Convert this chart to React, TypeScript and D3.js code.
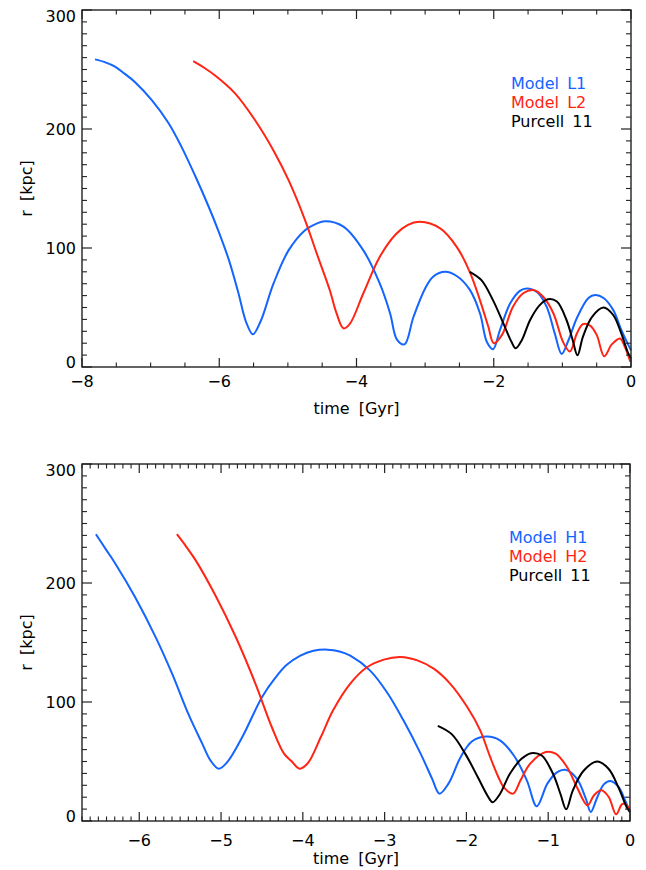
import React from "react";
import * as d3 from "d3";

type P = [number, number];

// Top panel series (time [Gyr], r [kpc])
const modelL1: P[] = [[-7.81,258.5],[-7.66,256],[-7.52,252.5],[-7.38,246.5],[-7.23,239.5],[-6.98,224],[-6.74,205],[-6.55,185],[-6.35,160.5],[-6.16,135.5],[-6.01,114],[-5.86,90],[-5.72,62],[-5.61,38],[-5.51,27.5],[-5.40,38],[-5.21,70],[-4.99,98],[-4.75,115],[-4.62,119.5],[-4.46,122.5],[-4.19,118],[-3.90,98],[-3.66,70],[-3.51,45],[-3.41,23],[-3.30,19],[-3.17,42],[-3.00,66],[-2.88,76],[-2.71,80],[-2.54,76.5],[-2.35,65],[-2.20,45],[-2.10,21],[-2.01,15],[-1.91,31],[-1.76,53.5],[-1.62,64],[-1.52,66],[-1.37,63],[-1.23,50.7],[-1.11,28],[-1.01,11],[-0.91,22.7],[-0.79,41],[-0.62,58],[-0.52,60.5],[-0.40,58],[-0.26,48],[-0.14,31],[0,14]];
const modelL2: P[] = [[-6.38,257],[-6.22,251.5],[-6.06,245],[-5.77,230],[-5.48,207.6],[-5.21,182],[-4.99,157],[-4.75,123.5],[-4.58,95.5],[-4.39,64.7],[-4.29,45],[-4.19,32.5],[-4.10,36],[-3.90,62],[-3.66,92.7],[-3.42,112],[-3.25,119.5],[-3.08,122],[-2.78,116.5],[-2.54,101],[-2.35,80],[-2.20,56],[-2.08,34],[-2.00,20],[-1.88,27],[-1.72,50.7],[-1.57,62],[-1.42,64.7],[-1.28,59],[-1.13,45],[-0.99,21],[-0.89,13],[-0.79,28],[-0.70,36],[-0.60,35],[-0.50,27],[-0.39,9],[-0.28,19],[-0.16,24],[-0.09,17],[-0.01,4.5]];
// Purcell 11 (same orbit shown in both panels)
const purcell11: P[] = [[-2.35,80],[-2.18,73],[-2.01,56],[-1.86,36.7],[-1.74,21],[-1.68,15.7],[-1.59,22.7],[-1.47,39.5],[-1.33,52],[-1.21,57],[-1.08,55],[-0.94,39.5],[-0.85,22.7],[-0.78,9.8],[-0.70,25.5],[-0.57,42],[-0.40,50],[-0.26,43.7],[-0.14,28],[-0.04,11.5],[0,7.5]];

// Bottom panel series
const modelH1: P[] = [[-6.53,241],[-6.41,228.5],[-6.29,216],[-6.05,188],[-5.80,154.5],[-5.60,124],[-5.40,90],[-5.23,65],[-5.13,51],[-5.03,44],[-4.93,49],[-4.74,70.6],[-4.50,104],[-4.34,120],[-4.20,131],[-4.03,139],[-3.87,143],[-3.70,144],[-3.55,142.5],[-3.42,139],[-3.18,126.6],[-2.97,108],[-2.77,84.6],[-2.56,56.6],[-2.42,35.6],[-2.33,23],[-2.22,31.4],[-2.07,53.8],[-1.93,67],[-1.75,71],[-1.59,67.8],[-1.42,55],[-1.26,34],[-1.14,12.4],[-1.01,31.4],[-0.89,41],[-0.79,43],[-0.65,35.6],[-0.54,18.8],[-0.48,7.6],[-0.40,20],[-0.32,30.8],[-0.24,33.6],[-0.14,28.6],[-0.06,17.4],[0,7.6]];
const modelH2: P[] = [[-5.54,241],[-5.42,230],[-5.31,219],[-5.07,189.7],[-4.82,154.6],[-4.58,115.5],[-4.38,79],[-4.23,56.6],[-4.14,50.4],[-4.04,44],[-3.94,48.5],[-3.78,70.6],[-3.63,93],[-3.42,115.5],[-3.22,129],[-3.01,135.6],[-2.81,137.8],[-2.60,135],[-2.40,128],[-2.20,115.5],[-1.99,95.8],[-1.83,76],[-1.71,53.8],[-1.61,37],[-1.54,28],[-1.43,23],[-1.34,34],[-1.22,48.2],[-1.03,58],[-0.91,56.6],[-0.77,45.4],[-0.65,28.6],[-0.52,13.2],[-0.44,21.6],[-0.35,25.8],[-0.26,20.2],[-0.17,5.6],[-0.10,14],[-0.06,14.6],[0,9]];

const topLegend = ["Model L1", "Model L2", "Purcell 11"];
const bottomLegend = ["Model H1", "Model H2", "Purcell 11"];
const yTicks = [0, 100, 200, 300];
const topXTicks = [-8, -6, -4, -2, 0];
const bottomXTicks = [-6, -5, -4, -3, -2, -1, 0];

const BLUE = "#1464ff";
const RED = "#ff2414";
const BLACK = "#000000";
const FONT = "DejaVu Sans";
const AX = "#222";

interface PanelProps {
  left: number; right: number; top: number; bottom: number;
  xDomain: [number, number];
  xMajor: number[]; xMinorStep: number;
  series: { data: P[]; color: string }[];
  legend: string[]; legendX: number;
  xLabelOffset: number; xTitleY: number;
}

const fmt = (v: number) => (v < 0 ? "\u2212" + Math.abs(v) : String(v));

function Panel(p: PanelProps) {
  const x = d3.scaleLinear().domain(p.xDomain).range([p.left, p.right]);
  const y = d3.scaleLinear().domain([0, 300]).range([p.bottom, p.top]);
  const line = d3.line<P>().x(d => x(d[0])).y(d => y(d[1])).curve(d3.curveCatmullRom.alpha(0.5));
  const yMinor = d3.range(0, 301, 10).filter(v => v % 100 !== 0);
  const xMinor = d3.range(p.xDomain[0], p.xDomain[1] + 1e-9, p.xMinorStep)
    .map(v => Math.round(v / p.xMinorStep) * p.xMinorStep)
    .filter(v => v >= p.xDomain[0] - 1e-9 && !p.xMajor.some(m => Math.abs(m - v) < 1e-6));
  const colors = [BLUE, RED, BLACK];
  const yLabelY = (v: number) => {
    const c = Math.min(Math.max(y(v), p.top + 6), p.bottom - 5);
    return c + 6;
  };
  return (
    <g>
      {p.series.map((s, i) => (
        <path key={i} d={line(s.data) || ""} fill="none" stroke={s.color} strokeWidth={2} strokeLinejoin="round" />
      ))}
      <rect x={p.left} y={p.top} width={p.right - p.left} height={p.bottom - p.top} fill="none" stroke={AX} strokeWidth={1.4} />
      {yTicks.map(v => (
        <g key={"ym" + v}>
          <line x1={p.left} x2={p.left + 10} y1={y(v)} y2={y(v)} stroke={AX} strokeWidth={1.2} />
          <line x1={p.right} x2={p.right - 10} y1={y(v)} y2={y(v)} stroke={AX} strokeWidth={1.2} />
          <text x={76} y={yLabelY(v)} textAnchor="end" fontFamily={FONT} fontSize={16}>{v}</text>
        </g>
      ))}
      {yMinor.map(v => (
        <g key={"yn" + v}>
          <line x1={p.left} x2={p.left + 5} y1={y(v)} y2={y(v)} stroke={AX} strokeWidth={1.1} />
          <line x1={p.right} x2={p.right - 5} y1={y(v)} y2={y(v)} stroke={AX} strokeWidth={1.1} />
        </g>
      ))}
      {p.xMajor.map(v => (
        <g key={"xm" + v}>
          <line x1={x(v)} x2={x(v)} y1={p.bottom} y2={p.bottom - 9} stroke={AX} strokeWidth={1.2} />
          <line x1={x(v)} x2={x(v)} y1={p.top} y2={p.top + 9} stroke={AX} strokeWidth={1.2} />
          <text x={x(v)} y={p.bottom + p.xLabelOffset} textAnchor="middle" fontFamily={FONT} fontSize={16}>{fmt(v)}</text>
        </g>
      ))}
      {xMinor.map(v => (
        <g key={"xn" + v}>
          <line x1={x(v)} x2={x(v)} y1={p.bottom} y2={p.bottom - 4.5} stroke={AX} strokeWidth={1.1} />
          <line x1={x(v)} x2={x(v)} y1={p.top} y2={p.top + 4.5} stroke={AX} strokeWidth={1.1} />
        </g>
      ))}
      <text x={(p.left + p.right) / 2} y={p.xTitleY} textAnchor="middle" fontFamily={FONT} fontSize={16} wordSpacing={4}>time [Gyr]</text>
      <text transform={`translate(32,${(p.top + p.bottom) / 2}) rotate(-90)`} textAnchor="middle" fontFamily={FONT} fontSize={16} wordSpacing={4}>r [kpc]</text>
      {p.legend.map((t, i) => (
        <text key={t} x={p.legendX} y={p.top + 79 + i * 19} fontFamily={FONT} fontSize={16} fill={colors[i]} wordSpacing={3}>{t}</text>
      ))}
    </g>
  );
}

export default function App() {
  return (
    <svg width={646} height={870} style={{ position: "absolute", left: 0, top: 0, background: "#fff" }}>
      <rect width={646} height={870} fill="#fff" />
      <Panel left={82} right={631} top={10} bottom={367} xDomain={[-8, 0]} xMajor={topXTicks} xMinorStep={0.5}
        series={[{ data: modelL1, color: BLUE }, { data: modelL2, color: RED }, { data: purcell11, color: BLACK }]}
        legend={topLegend} legendX={511} xLabelOffset={20} xTitleY={414} />
      <Panel left={82} right={630} top={464} bottom={821} xDomain={[-6.7, 0]} xMajor={bottomXTicks} xMinorStep={0.1}
        series={[{ data: modelH1, color: BLUE }, { data: modelH2, color: RED }, { data: purcell11, color: BLACK }]}
        legend={bottomLegend} legendX={509} xLabelOffset={25} xTitleY={864} />
    </svg>
  );
}
